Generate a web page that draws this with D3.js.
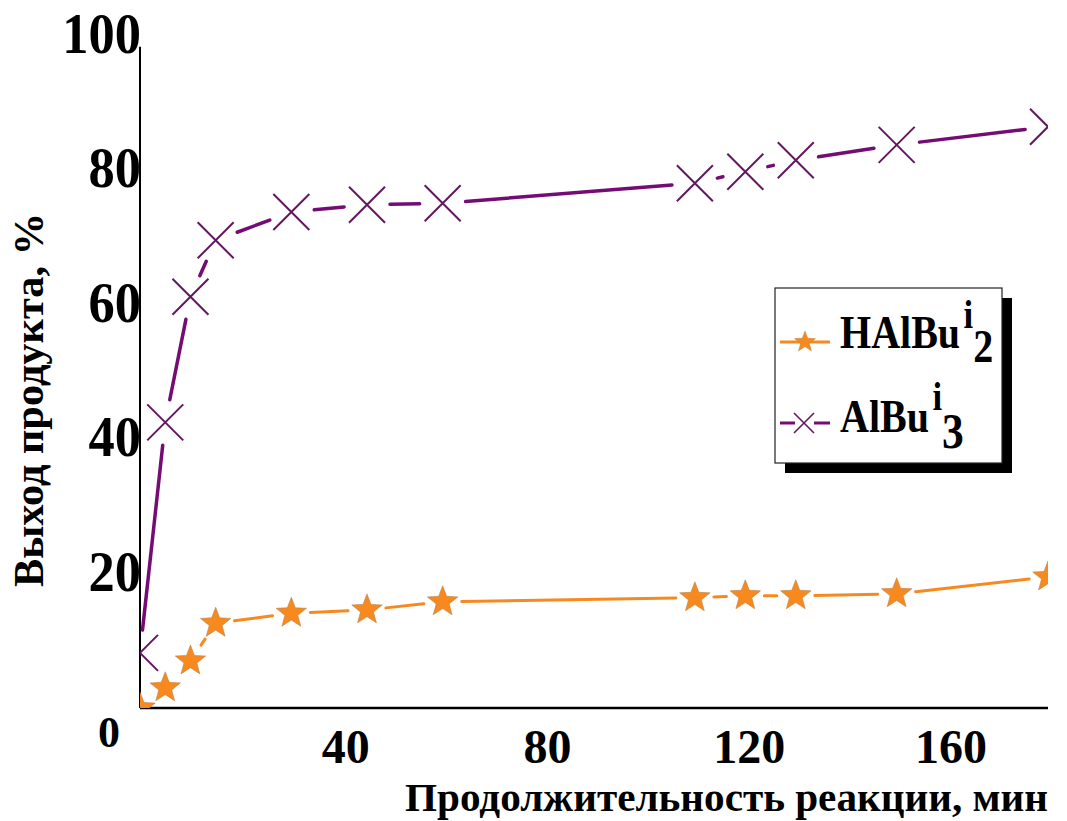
<!DOCTYPE html>
<html>
<head>
<meta charset="utf-8">
<script src="https://cdn.jsdelivr.net/npm/d3@7"></script>
<style>
  body { margin: 0; background: #fff; }
  svg { display: block; }
  text { font-family: "Liberation Serif", "Times New Roman", serif; font-weight: bold; fill: #000; }
</style>
</head>
<body>
<svg id="chart" width="1067" height="821"></svg>
<script>
// Reaction time, minutes
const times = [0, 5, 10, 15, 30, 45, 60, 110, 120, 130, 150, 180];
// Product yield, %
const yieldHAlBu2 = [0, 3.0, 7.0, 12.6, 14.1, 14.6, 15.8, 16.4, 16.7, 16.7, 17.0, 19.5];
const yieldAlBu3 = [8.2, 42.5, 61.2, 69.6, 73.8, 74.9, 75.1, 78.1, 79.8, 81.5, 83.8, 86.5];
const xTicks = [40, 80, 120, 160];
const yTicks = [20, 40, 60, 80, 100];
// legend names: base, superscript, subscript
const seriesNames = [["HAlBu", "i", "2"], ["AlBu", "i", "3"]];

const ORANGE = "#f7891e";
const PURPLE = "#740c74";
const PURPLE_MARK = "#62185f";

const svg = d3.select("#chart");

const x = d3.scaleLinear().domain([0, 180]).range([140, 1048]);
const y = d3.scaleLinear().domain([0, 100]).range([708, 36]);

// plot clip: markers at the frame edges are cut off
svg.append("defs").append("clipPath").attr("id", "plotClip")
  .append("rect")
  .attr("x", x(0)).attr("y", y(100) - 20)
  .attr("width", x(180) - x(0)).attr("height", y(0) - y(100) + 20);

// squeeze text horizontally to mimic a condensed face
function condense(sel, factor) {
  sel.each(function () {
    const w = this.getComputedTextLength();
    d3.select(this).attr("textLength", w * factor).attr("lengthAdjust", "spacingAndGlyphs");
  });
}

// axes lines (no tick marks)
svg.append("line")
  .attr("x1", x(0)).attr("x2", x(180))
  .attr("y1", y(0)).attr("y2", y(0))
  .attr("stroke", "#000").attr("stroke-width", 2.5);
svg.append("line")
  .attr("x1", x(0)).attr("x2", x(0))
  .attr("y1", y(0)).attr("y2", y(98.4))
  .attr("stroke", "#000").attr("stroke-width", 2);

// y tick labels
svg.append("g").selectAll("text").data(yTicks).join("text")
  .attr("x", x(0) + 1)
  .attr("y", d => y(d) + 17)
  .attr("text-anchor", "end")
  .attr("font-size", 57)
  .text(d => d)
  .call(condense, 0.92);

// x tick labels
svg.append("g").selectAll("text").data(xTicks).join("text")
  .attr("x", d => x(d) + 4)
  .attr("y", 763)
  .attr("text-anchor", "middle")
  .attr("font-size", 48)
  .text(d => d);

// shared zero at the origin
svg.append("text")
  .attr("x", 109).attr("y", 747)
  .attr("text-anchor", "middle")
  .attr("font-size", 44)
  .text(0);

// axis titles
svg.append("text")
  .attr("x", 405).attr("y", 811)
  .attr("font-size", 40)
  .attr("textLength", 643).attr("lengthAdjust", "spacingAndGlyphs")
  .text("Продолжительность реакции, мин");

svg.append("text")
  .attr("transform", "translate(43,400) rotate(-90)")
  .attr("text-anchor", "middle")
  .attr("font-size", 42)
  .attr("textLength", 374).attr("lengthAdjust", "spacingAndGlyphs")
  .text("Выход продукта, %");

// connector segments that stop short of each marker
function gappedSegments(xs, ys, gap) {
  const pts = xs.map((t, i) => [x(t), y(ys[i])]);
  const segs = [];
  for (let i = 0; i < pts.length - 1; i++) {
    const [ax, ay] = pts[i], [bx, by] = pts[i + 1];
    const dx = bx - ax, dy = by - ay, len = Math.hypot(dx, dy);
    if (len <= 2 * gap + 1) continue;
    const ux = dx / len, uy = dy / len;
    segs.push([ax + ux * gap, ay + uy * gap, bx - ux * gap, by - uy * gap]);
  }
  return segs;
}

function starPath(R, r) {
  const p = [];
  for (let k = 0; k < 10; k++) {
    const a = -Math.PI / 2 + k * Math.PI / 5;
    const rad = k % 2 === 0 ? R : r;
    p.push([Math.cos(a) * rad, Math.sin(a) * rad]);
  }
  return "M" + p.map(q => q.join(",")).join("L") + "Z";
}

const plot = svg.append("g").attr("clip-path", "url(#plotClip)");

// AlBu3 series
plot.append("g").selectAll("line").data(gappedSegments(times, yieldAlBu3, 23)).join("line")
  .attr("x1", d => d[0]).attr("y1", d => d[1]).attr("x2", d => d[2]).attr("y2", d => d[3])
  .attr("stroke", PURPLE).attr("stroke-width", 3.5).attr("stroke-linecap", "round");

plot.append("g").selectAll("path").data(times.map((t, i) => [t, yieldAlBu3[i]])).join("path")
  .attr("transform", d => `translate(${x(d[0])},${y(d[1])})`)
  .attr("d", "M-18,-18L18,18M-18,18L18,-18")
  .attr("stroke", PURPLE_MARK).attr("stroke-width", 2).attr("fill", "none");

// HAlBu2 series
plot.append("g").selectAll("line").data(gappedSegments(times, yieldHAlBu2, 19)).join("line")
  .attr("x1", d => d[0]).attr("y1", d => d[1]).attr("x2", d => d[2]).attr("y2", d => d[3])
  .attr("stroke", ORANGE).attr("stroke-width", 3).attr("stroke-linecap", "round");

plot.append("g").selectAll("path").data(times.map((t, i) => [t, yieldHAlBu2[i]])).join("path")
  .attr("transform", d => `translate(${x(d[0])},${y(d[1])})`)
  .attr("d", starPath(16, 6.8))
  .attr("fill", ORANGE)
  .attr("stroke", "#b9854f").attr("stroke-width", 0.6);

// legend
const lg = svg.append("g");
lg.append("rect").attr("x", 785).attr("y", 298).attr("width", 227).attr("height", 175).attr("fill", "#000");
lg.append("rect").attr("x", 775).attr("y", 288).attr("width", 227).attr("height", 175)
  .attr("fill", "#fff").attr("stroke", "#222").attr("stroke-width", 1.2);

// one text element per entry: base name, raised "i", lowered digit
function legendLabel(parts, baseY, supDy, subDy, subSize, squeeze) {
  const g = lg.append("g").attr("transform", `translate(840,${baseY}) scale(${squeeze},1)`);
  const t = g.append("text").attr("x", 0).attr("y", 0).attr("font-size", 46);
  t.append("tspan").text(parts[0]);
  t.append("tspan").attr("font-size", 40).attr("dx", 4).attr("dy", supDy).text(parts[1]);
  t.append("tspan").attr("font-size", subSize).attr("dx", 0).attr("dy", subDy).text(parts[2]);
}

// HAlBu2 entry
lg.append("line").attr("x1", 780).attr("x2", 830).attr("y1", 342).attr("y2", 342)
  .attr("stroke", ORANGE).attr("stroke-width", 3);
lg.append("path").attr("transform", "translate(805,342)").attr("d", starPath(11, 4.6))
  .attr("fill", ORANGE).attr("stroke", "#b9854f").attr("stroke-width", 0.5);
legendLabel(seriesNames[0], 348, -20, 34, 46, 0.87);

// AlBu3 entry
lg.append("line").attr("x1", 780).attr("x2", 795).attr("y1", 423).attr("y2", 423)
  .attr("stroke", PURPLE).attr("stroke-width", 3);
lg.append("line").attr("x1", 814).attr("x2", 830).attr("y1", 423).attr("y2", 423)
  .attr("stroke", PURPLE).attr("stroke-width", 3);
lg.append("path").attr("transform", "translate(804,423)")
  .attr("d", "M-10,-10L10,10M-10,10L10,-10")
  .attr("stroke", PURPLE_MARK).attr("stroke-width", 1.6).attr("fill", "none");
legendLabel(seriesNames[1], 432, -22, 38, 50, 0.87);
</script>
</body>
</html>
